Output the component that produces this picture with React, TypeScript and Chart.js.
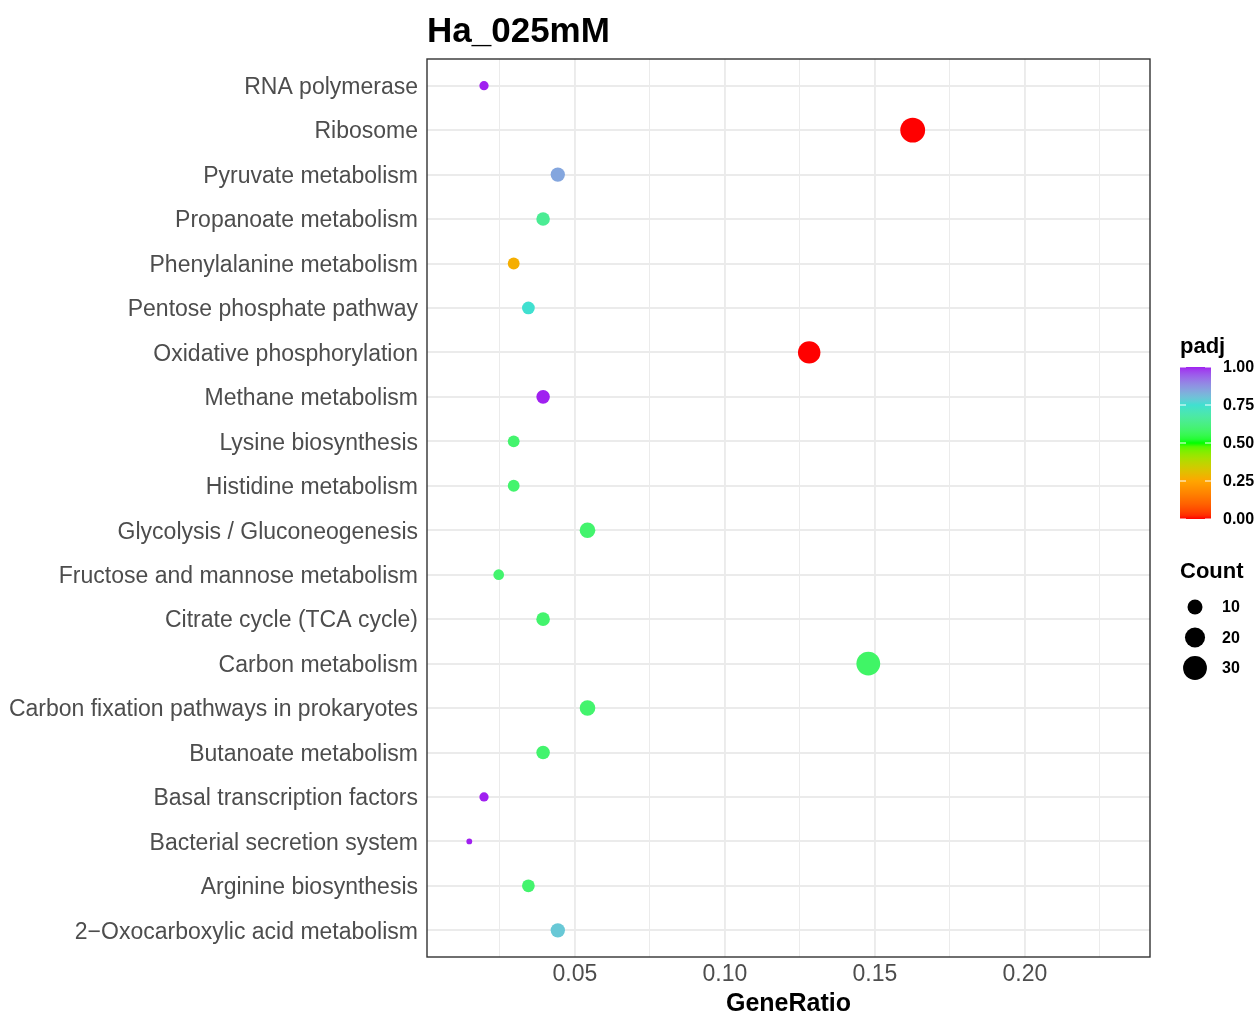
import React, { useEffect, useRef } from "react";
import { Chart, registerables } from "chart.js";

Chart.register(...registerables);

// ---------------- data ----------------
const chartTitle = "Ha_025mM";
const categories = [
  "RNA polymerase",
  "Ribosome",
  "Pyruvate metabolism",
  "Propanoate metabolism",
  "Phenylalanine metabolism",
  "Pentose phosphate pathway",
  "Oxidative phosphorylation",
  "Methane metabolism",
  "Lysine biosynthesis",
  "Histidine metabolism",
  "Glycolysis / Gluconeogenesis",
  "Fructose and mannose metabolism",
  "Citrate cycle (TCA cycle)",
  "Carbon metabolism",
  "Carbon fixation pathways in prokaryotes",
  "Butanoate metabolism",
  "Basal transcription factors",
  "Bacterial secretion system",
  "Arginine biosynthesis",
  "2\u2212Oxocarboxylic acid metabolism",
];
const geneRatio = [
  0.0197, 0.1626, 0.0443, 0.0394, 0.0296, 0.0345, 0.1281, 0.0394, 0.0296, 0.0296,
  0.0542, 0.0246, 0.0394, 0.1478, 0.0542, 0.0394, 0.0197, 0.0148, 0.0345, 0.0443,
];
const counts = [4, 33, 9, 8, 6, 7, 26, 8, 6, 6, 11, 5, 8, 30, 11, 8, 4, 3, 7, 9];
const padj = [
  1.0, 0.0, 0.845, 0.65, 0.27, 0.75, 0.0, 1.0, 0.59, 0.59,
  0.59, 0.59, 0.59, 0.58, 0.59, 0.59, 1.0, 1.0, 0.59, 0.79,
];
const xMajorTicks = [0.05, 0.1, 0.15, 0.2];
const xMinorTicks = [0.025, 0.075, 0.125, 0.175, 0.225];
const colorLegendTicks = [0, 0.25, 0.5, 0.75, 1];
const countLegendTicks = [10, 20, 30];
const colorStops = ["#FF0000", "#FFA500", "#00FF00", "#40E0D0", "#A020F0"];

// ---------------- colour helpers (Lab interpolation like ggplot) ----------------
function hexToRgb(h: string): number[] {
  const n = parseInt(h.slice(1), 16);
  return [(n >> 16) & 255, (n >> 8) & 255, n & 255];
}
function lin(c: number) {
  c /= 255;
  return c <= 0.04045 ? c / 12.92 : Math.pow((c + 0.055) / 1.055, 2.4);
}
function unlin(c: number) {
  const v = c <= 0.0031308 ? 12.92 * c : 1.055 * Math.pow(c, 1 / 2.4) - 0.055;
  return Math.max(0, Math.min(255, Math.round(v * 255)));
}
function rgbToLab(rgb: number[]) {
  const R = lin(rgb[0]), G = lin(rgb[1]), B = lin(rgb[2]);
  const X = (0.4124 * R + 0.3576 * G + 0.1805 * B) / 0.95047;
  const Y = 0.2126 * R + 0.7152 * G + 0.0722 * B;
  const Z = (0.0193 * R + 0.1192 * G + 0.9505 * B) / 1.08883;
  const f = (t: number) => (t > 0.008856 ? Math.cbrt(t) : 7.787 * t + 16 / 116);
  const fx = f(X), fy = f(Y), fz = f(Z);
  return [116 * fy - 16, 500 * (fx - fy), 200 * (fy - fz)];
}
function labToRgb(lab: number[]) {
  const fy = (lab[0] + 16) / 116;
  const fx = fy + lab[1] / 500;
  const fz = fy - lab[2] / 200;
  const finv = (t: number) => (t * t * t > 0.008856 ? t * t * t : (t - 16 / 116) / 7.787);
  const X = finv(fx) * 0.95047, Y = finv(fy), Z = finv(fz) * 1.08883;
  const R = 3.2406 * X - 1.5372 * Y - 0.4986 * Z;
  const G = -0.9689 * X + 1.8758 * Y + 0.0415 * Z;
  const B = 0.0557 * X - 0.204 * Y + 1.057 * Z;
  return [unlin(R), unlin(G), unlin(B)];
}
const stopLabs = colorStops.map((c) => rgbToLab(hexToRgb(c)));
function padjColor(v: number): string {
  const t = Math.max(0, Math.min(1, v)) * (stopLabs.length - 1);
  const i = Math.min(stopLabs.length - 2, Math.floor(t));
  const f = t - i;
  const a = stopLabs[i], b = stopLabs[i + 1];
  const rgb = labToRgb([a[0] + (b[0] - a[0]) * f, a[1] + (b[1] - a[1]) * f, a[2] + (b[2] - a[2]) * f]);
  return `rgb(${rgb[0]},${rgb[1]},${rgb[2]})`;
}

// size mapping like scale_size (area), range 1..6
const cMin = Math.min(...counts);
const cMax = Math.max(...counts);
function countRadius(c: number) {
  const s = 1 + 5 * Math.sqrt(Math.max(0, (c - cMin) / (cMax - cMin)));
  return (3.8 * s + 2) / 2;
}

const FONT = "'Liberation Sans', Arial, Helvetica, sans-serif";

export default function App() {
  const ref = useRef<HTMLCanvasElement | null>(null);
  useEffect(() => {
    if (!ref.current) return;
    const decorPlugin = {
      id: "decor",
      afterDraw(chart: any) {
        const { ctx, chartArea } = chart;
        const { left, right, top, bottom } = chartArea;
        ctx.save();
        // panel border
        ctx.strokeStyle = "#333333";
        ctx.lineWidth = 1.4;
        ctx.strokeRect(left, top, right - left, bottom - top);
        // title
        ctx.fillStyle = "#000";
        ctx.font = `bold 35px ${FONT}`;
        ctx.textAlign = "left";
        ctx.textBaseline = "alphabetic";
        ctx.fillText(chartTitle, left, 42);

        // colour legend
        const lx = 1180;
        ctx.font = `bold 22px ${FONT}`;
        ctx.fillText("padj", lx, 353);
        const barTop = 367, barBot = 519, barW = 31;
        const grad = ctx.createLinearGradient(0, barBot, 0, barTop);
        for (let k = 0; k <= 40; k++) grad.addColorStop(k / 40, padjColor(k / 40));
        ctx.fillStyle = grad;
        ctx.fillRect(lx, barTop, barW, barBot - barTop);
        ctx.strokeStyle = "#ffffff";
        ctx.lineWidth = 1;
        ctx.font = `bold 16px ${FONT}`;
        ctx.textBaseline = "middle";
        colorLegendTicks.forEach((v) => {
          const y = barBot - v * (barBot - barTop);
          ctx.beginPath();
          ctx.moveTo(lx, y);
          ctx.lineTo(lx + 6, y);
          ctx.moveTo(lx + barW - 6, y);
          ctx.lineTo(lx + barW, y);
          ctx.stroke();
          ctx.fillStyle = "#000";
          ctx.fillText(v.toFixed(2), 1223, y + 1);
        });

        // count legend
        ctx.textBaseline = "alphabetic";
        ctx.font = `bold 22px ${FONT}`;
        ctx.fillText("Count", lx, 578);
        ctx.font = `bold 16px ${FONT}`;
        ctx.textBaseline = "middle";
        countLegendTicks.forEach((c, k) => {
          const y = 607 + k * 30.5;
          ctx.beginPath();
          ctx.fillStyle = "#000";
          ctx.arc(1195, y, countRadius(c), 0, Math.PI * 2);
          ctx.fill();
          ctx.fillText(String(c), 1222, y + 1);
        });
        ctx.restore();
      },
    };

    const chart = new Chart(ref.current, {
      type: "scatter",
      data: {
        datasets: [
          {
            data: categories.map((_, i) => ({ x: geneRatio[i], y: i })),
            pointRadius: counts.map((c) => countRadius(c)),
            pointHoverRadius: counts.map((c) => countRadius(c)),
            backgroundColor: padj.map((p) => padjColor(p)),
            borderWidth: 0,
            pointBorderWidth: 0,
          },
        ],
      },
      options: {
        responsive: false,
        animation: false,
        events: [],
        layout: { padding: { left: 0, top: 59, right: 108, bottom: 0 } },
        plugins: { legend: { display: false }, tooltip: { enabled: false }, title: { display: false } },
        scales: {
          x: {
            type: "linear",
            min: 0.0007,
            max: 0.2417,
            afterBuildTicks: (scale: any) => {
              scale.ticks = [...xMinorTicks, ...xMajorTicks].sort((a, b) => a - b).map((v) => ({ value: v }));
            },
            afterFit: (scale: any) => {
              scale.height = 57;
            },
            border: { display: false },
            grid: {
              drawTicks: false,
              color: "#EBEBEB",
              lineWidth: (ctx: any) => {
                const v = ctx.tick ? ctx.tick.value : 0;
                return xMajorTicks.some((m) => Math.abs(m - v) < 1e-6) ? 1.9 : 1.0;
              },
            },
            ticks: {
              autoSkip: false,
              maxRotation: 0,
              padding: 4,
              color: "#4D4D4D",
              font: { family: FONT, size: 23 },
              callback: (v: any) => {
                const n = Number(v);
                return xMajorTicks.some((m) => Math.abs(m - n) < 1e-6) ? n.toFixed(2) : "";
              },
            },
            title: {
              display: true,
              text: "GeneRatio",
              color: "#000",
              font: { family: FONT, size: 25, weight: "bold", lineHeight: 0.76 },
              padding: { top: 0, bottom: 0 },
            },
          },
          y: {
            type: "linear",
            reverse: true,
            min: -0.6,
            max: categories.length - 0.4,
            afterBuildTicks: (scale: any) => {
              scale.ticks = categories.map((_, i) => ({ value: i }));
            },
            afterFit: (scale: any) => {
              scale.width = 427;
            },
            border: { display: false },
            grid: { drawTicks: false, color: "#EBEBEB", lineWidth: 1.9 },
            ticks: {
              autoSkip: false,
              padding: 9,
              labelOffset: 2,
              color: "#4D4D4D",
              font: { family: FONT, size: 23 },
              callback: (v: any) => categories[Number(v)] ?? "",
            },
          },
        },
      } as any,
      plugins: [decorPlugin],
    });
    return () => chart.destroy();
  }, []);

  return (
    <div style={{ position: "absolute", left: 0, top: 0, width: 1258, height: 1014, background: "#fff" }}>
      <canvas ref={ref} width={1258} height={1014} style={{ display: "block" }} />
    </div>
  );
}
